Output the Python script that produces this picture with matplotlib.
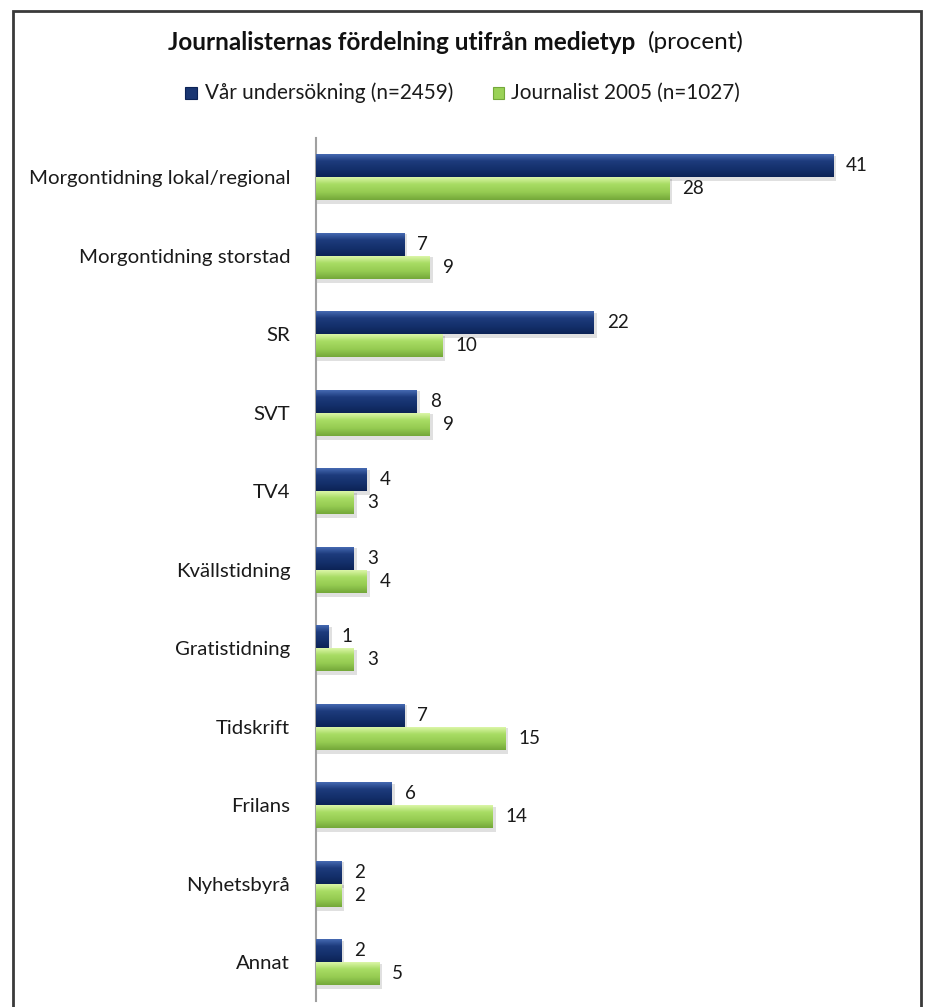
import matplotlib.pyplot as plt
import numpy as np
from matplotlib.colors import LinearSegmentedColormap
from matplotlib.patches import Rectangle

categories = ["Morgontidning lokal/regional", "Morgontidning storstad", "SR", "SVT", "TV4",
              "Kvällstidning", "Gratistidning", "Tidskrift", "Frilans", "Nyhetsbyrå", "Annat"]
var_undersokning = [41, 7, 22, 8, 4, 3, 1, 7, 6, 2, 2]
journalist_2005 = [28, 9, 10, 9, 3, 4, 3, 15, 14, 2, 5]
series_names = ["Vår undersökning (n=2459)", "Journalist 2005 (n=1027)"]

plt.rcParams['font.family'] = ['Lato', 'DejaVu Sans']

navy = LinearSegmentedColormap.from_list("navy", ["#4a6fb8", "#1d3b7c", "#14306c", "#0c2356"])
green = LinearSegmentedColormap.from_list("green", ["#e2f9b0", "#a8dc64", "#96cc52", "#74a83a"])

fig = plt.figure(figsize=(9.25, 10.07), dpi=100)
ax = fig.add_axes([0.3416, 0.0055, 0.6135, 0.8575])

y = np.arange(len(categories))
h = 0.295
bars1 = ax.barh(y - h / 2, var_undersokning, height=h, color="#1a3672", zorder=2)
bars2 = ax.barh(y + h / 2, journalist_2005, height=h, color="#9ad257", zorder=2)

grad = np.linspace(0, 1, 50).reshape(-1, 1)
for bars, cmap in [(bars1, navy), (bars2, green)]:
    for b in bars:
        x0, y0, w, hh = b.get_x(), b.get_y(), b.get_width(), b.get_height()
        # drop shadow
        ax.add_patch(Rectangle((x0, y0 + 0.02), w + 0.25, hh + 0.03, color="#000000",
                               alpha=0.12, lw=0, zorder=1))
        im = ax.imshow(grad, cmap=cmap, aspect="auto", extent=(x0, x0 + w, y0 + hh, y0),
                       zorder=3)
        im.set_clip_path(b)

for bars, vals in [(bars1, var_undersokning), (bars2, journalist_2005)]:
    for b, v in zip(bars, vals):
        ax.text(b.get_width() + 1.05, b.get_y() + b.get_height() / 2, str(v),
                va="center", ha="left", fontsize=13.5, color="#1a1a1a")

ax.set_xlim(0, 45)
ax.set_ylim(len(categories) - 0.5, -0.5)
ax.set_yticks(y)
ax.set_yticklabels(categories, fontsize=14.7, color="#1a1a1a")
ax.tick_params(axis="y", length=0, pad=18.5)
ax.set_xticks([])
for s in ["top", "right", "bottom"]:
    ax.spines[s].set_visible(False)
ax.spines["left"].set_color("#a0a0a0")
ax.spines["left"].set_linewidth(1.5)

fig.text(0.6865, 0.958, "Journalisternas fördelning utifrån medietyp", ha="right", va="center",
         fontsize=17.5, fontweight="bold", color="#111111")
fig.text(0.7005, 0.958, "(procent)", ha="left", va="center", fontsize=17.5, color="#111111")

# legend
fig.patches.append(Rectangle((0.2005, 0.9015), 0.012, 0.012, transform=fig.transFigure,
                             facecolor="#1a3672", edgecolor="#0c2356", lw=0.8))
fig.text(0.2216, 0.9075, series_names[0], ha="left", va="center", fontsize=14.9, color="#1a1a1a")
fig.patches.append(Rectangle((0.533, 0.9015), 0.012, 0.012, transform=fig.transFigure,
                             facecolor="#9ad257", edgecolor="#74a83a", lw=0.8))
fig.text(0.5525, 0.9075, series_names[1], ha="left", va="center", fontsize=14.9, color="#1a1a1a")

# outer frame
fig.patches.append(Rectangle((0.0145, -0.01), 0.981, 0.999, transform=fig.transFigure,
                             fill=False, edgecolor="#3a3a3a", lw=2))

fig.savefig("out.png", dpi=100)
